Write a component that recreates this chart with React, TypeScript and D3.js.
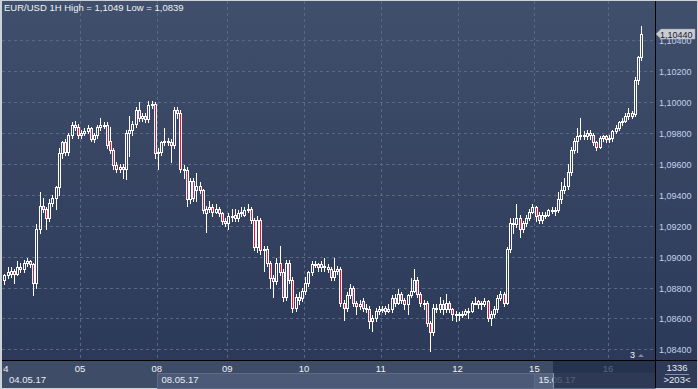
import React from 'react';
import * as d3 from 'd3';

// prices are stored in pips above 1.0000 (887 -> 1,0887)
const openPips = [
  885, 888, 889, 891, 889, 893, 892, 896, 897, 895, 883, 918, 933, 931, 925, 935, 938, 945, 967, 974, 968, 979, 985, 984,
  979, 980, 981, 983, 976, 979, 984, 985, 985, 975, 969, 959, 957, 958, 957, 980, 982, 986, 995, 990, 991, 989, 998, 999,
  967, 968, 974, 975, 974, 972, 995, 993, 957, 956, 937, 949, 943, 946, 943, 928, 931, 932, 929, 931, 928, 923,
  922, 926, 927, 925, 928, 927, 930, 931, 924, 906, 924, 904, 905, 896, 886, 884, 896, 890, 874, 896, 885, 867, 874, 873,
  878, 883, 890, 895, 895, 893, 894, 893, 892, 887, 891, 892, 870, 867, 875, 880, 870, 868, 871, 867, 866, 858, 860, 865,
  866, 867, 865, 866, 873, 870, 876, 872, 869, 875, 878, 885, 876, 870, 870, 857, 851, 867, 866, 869, 866, 870, 866, 863,
  863, 862, 863, 865, 865, 870, 871, 870, 869, 871, 860, 863, 866, 873, 876, 870, 905, 922, 921, 925, 918, 922, 925, 929,
  932, 927, 924, 927, 927, 930, 930, 930, 937, 943, 946, 955, 969, 975, 978, 979, 978, 980, 979, 974, 971, 977, 978,
  976, 977, 981, 983, 987, 988, 991, 991, 992, 1014, 1029,
];
const highPips = [
  889, 893, 893, 892, 897, 896, 898, 899, 898, 896, 921, 942, 938, 932, 937, 940, 946, 970, 975, 976, 980, 987, 988, 986,
  982, 983, 985, 984, 980, 985, 990, 987, 987, 984, 970, 961, 960, 960, 982, 991, 988, 997, 1000, 993, 993, 1001, 1001, 1000,
  970, 975, 983, 977, 976, 997, 997, 995, 959, 958, 951, 951, 954, 948, 944, 933, 936, 934, 934, 932, 929, 925,
  928, 931, 931, 930, 932, 932, 934, 932, 925, 926, 925, 907, 907, 897, 888, 899, 907, 892, 898, 898, 887, 876, 877, 880,
  887, 891, 897, 897, 896, 897, 899, 895, 893, 899, 894, 893, 872, 877, 882, 881, 871, 872, 873, 869, 868, 862, 867, 868,
  868, 868, 869, 875, 876, 879, 877, 873, 876, 886, 892, 887, 877, 872, 871, 858, 869, 869, 874, 872, 876, 871, 867, 865,
  864, 865, 866, 867, 871, 874, 872, 871, 873, 872, 865, 868, 875, 878, 877, 906, 925, 925, 934, 927, 923, 927, 931, 934,
  933, 929, 929, 929, 931, 932, 932, 942, 948, 951, 960, 971, 977, 983, 990, 981, 982, 982, 980, 975, 978, 979, 979,
  979, 982, 985, 988, 990, 993, 996, 994, 1016, 1030, 1049,
];
const lowPips = [
  882, 886, 887, 883, 888, 890, 890, 894, 893, 875, 880, 915, 929, 918, 923, 933, 931, 940, 964, 966, 966, 977, 982, 977,
  977, 979, 980, 975, 974, 977, 982, 983, 970, 967, 957, 955, 955, 951, 950, 965, 979, 984, 988, 988, 987, 987, 996, 964,
  957, 966, 972, 972, 961, 970, 990, 955, 951, 933, 935, 936, 936, 941, 928, 916, 929, 926, 928, 926, 921, 920,
  918, 923, 923, 923, 926, 926, 929, 922, 904, 903, 902, 891, 894, 880, 874, 882, 888, 871, 872, 883, 864, 865, 869, 871,
  876, 881, 888, 893, 891, 891, 891, 890, 885, 885, 889, 868, 859, 865, 873, 868, 863, 866, 865, 864, 854, 852, 858, 863,
  864, 863, 864, 864, 868, 869, 870, 866, 863, 874, 877, 874, 868, 866, 855, 839, 849, 864, 864, 863, 864, 864, 859, 858,
  859, 861, 862, 860, 864, 869, 867, 866, 868, 858, 856, 861, 864, 872, 868, 869, 903, 915, 919, 913, 916, 920, 924, 928,
  923, 922, 922, 925, 926, 928, 927, 929, 935, 941, 944, 953, 967, 968, 976, 976, 976, 976, 972, 969, 970, 975, 974,
  974, 975, 980, 982, 985, 987, 989, 990, 991, 1012, 1027,
];
const closePips = [
  888, 890, 891, 889, 893, 892, 896, 897, 895, 883, 918, 933, 931, 925, 935, 938, 945, 967, 974, 968, 979, 985, 984, 979,
  980, 981, 983, 976, 979, 984, 985, 985, 972, 969, 959, 957, 958, 957, 980, 982, 986, 995, 990, 991, 989, 998, 999, 967,
  968, 974, 975, 974, 972, 995, 993, 957, 956, 937, 949, 938, 946, 943, 930, 931, 932, 929, 931, 928, 923, 922,
  926, 926, 925, 928, 929, 930, 931, 924, 906, 924, 904, 905, 896, 886, 884, 896, 890, 874, 896, 885, 867, 874, 872, 878,
  883, 890, 895, 895, 893, 895, 893, 892, 887, 891, 892, 870, 867, 875, 880, 870, 868, 869, 867, 866, 858, 860, 865, 866,
  866, 865, 866, 873, 870, 876, 872, 869, 875, 878, 885, 876, 870, 870, 857, 851, 867, 866, 869, 866, 870, 866, 863, 862,
  862, 863, 865, 865, 870, 870, 869, 869, 871, 860, 863, 866, 873, 876, 870, 905, 922, 921, 925, 918, 922, 925, 929, 932,
  926, 924, 927, 927, 930, 930, 930, 937, 943, 946, 955, 969, 975, 978, 979, 978, 980, 979, 974, 971, 977, 978, 976,
  977, 981, 983, 987, 988, 991, 993, 993, 1014, 1029, 1044,
];

const dayLabels = ['04', '05', '08', '09', '10', '11', '12', '15', '16'];
const dayCandles = [24, 24, 22, 24, 24, 24, 24, 23, 11];
const weekLabels = ['04.05.17', '08.05.17', '15.05.17'];
const weekFirstDay = [0, 2, 7];
const yTicks = [1.084, 1.086, 1.088, 1.09, 1.092, 1.094, 1.096, 1.098, 1.1, 1.102, 1.104];
const title = 'EUR/USD 1H High = 1,1049 Low = 1,0839';
const barsTotal = '1336';
const barsShown = '>203<';

const W = 698;
const H = 389;
const plotLeft = 2;
const plotRight = 655;
const plotTop = 1;
const plotBottom = 360;
const font = '"Liberation Sans", Arial, sans-serif';

const toPrice = (p: number) => 1 + p / 10000;
const fmt = (v: number) => d3.format('.5f')(v).replace('.', ',');

export default function App() {
  const n = closePips.length;
  const step = 3.2;
  const x = d3.scaleBand<number>().domain(d3.range(n)).range([step, step * (n + 1)]);
  const y = d3.scaleLinear().domain([1.084, 1.104]).range([349.3, 40.3]);

  const dayStarts = dayCandles.map((_, k) => d3.sum(dayCandles.slice(0, k)));
  const dayX = dayStarts.map((s) => x(s) as number);
  const weekX = weekFirstDay.map((d) => (d === 0 ? plotLeft : Math.round(dayX[d]) + 0.5));
  const weekEnd = weekX.slice(1).concat([plotRight]);

  const lastY = y(toPrice(closePips[n - 1]));

  const candles = d3.range(n).map((i) => {
    const o = toPrice(openPips[i]);
    const c = toPrice(closePips[i]);
    const col = Math.floor((x(i) as number) + x.bandwidth() / 2);
    const yt = Math.round(y(Math.max(o, c))) + 0.5;
    const yb = Math.max(Math.round(y(Math.min(o, c))) + 0.5, yt + 1);
    const yh = Math.round(y(toPrice(highPips[i])));
    const yl = Math.round(y(toPrice(lowPips[i]))) + 1;
    const up = c >= o;
    return (
      <g key={i}>
        {yh < yt && <line x1={col + 0.5} x2={col + 0.5} y1={yh} y2={yt} stroke="#fff" />}
        {yl > yb && <line x1={col + 0.5} x2={col + 0.5} y1={yb} y2={yl} stroke="#fff" />}
        <rect x={col - 0.5} y={yt} width={2} height={yb - yt} fill={up ? 'none' : '#e8143c'} stroke="#fff" />
      </g>
    );
  });

  return (
    <svg width={W} height={H} style={{ position: 'absolute', left: 0, top: 0, fontFamily: font }}>
      <defs>
        <linearGradient id="bg" x1="0" y1="0" x2="0" y2="1">
          <stop offset="0" stopColor="#404f6b" />
          <stop offset="1" stopColor="#2c3959" />
        </linearGradient>
        <clipPath id="bottomClip">
          <rect x={3} y={361} width={plotRight - 3} height={28} />
        </clipPath>
      </defs>
      <rect width={W} height={H} fill="#cdd2d9" />
      <rect x={plotLeft} y={plotTop} width={W - plotLeft - 1} height={plotBottom - plotTop} fill="url(#bg)" />

      {/* grid */}
      <g stroke="#5a6884" strokeDasharray="3,3">
        {yTicks.map((t) => (
          <line key={t} x1={plotLeft} x2={plotRight} y1={Math.round(y(t)) + 0.5} y2={Math.round(y(t)) + 0.5} />
        ))}
        {dayX.slice(1).map((dx, k) => (
          <line key={k} x1={Math.round(dx) + 0.5} x2={Math.round(dx) + 0.5} y1={plotTop} y2={plotBottom} />
        ))}
      </g>

      <text x={4} y={11} fontSize={9.5} fill="#eef2f7">{title}</text>

      {candles}

      {/* right axis */}
      <g fontSize={9} fill="#c4d2ea">
        {yTicks.map((t) => (
          <text key={t} x={659} y={Math.round(y(t)) + 3.5}>{fmt(t)}</text>
        ))}
      </g>
      <path
        d={`M656,${lastY} L661,${lastY - 5} H695 V${lastY + 5} H661 Z`}
        fill="#c9cdd3"
        stroke="#9aa2ae"
        strokeWidth={0.5}
      />
      <text x={660} y={lastY + 3.5} fontSize={9} fill="#1c2230">{fmt(toPrice(closePips[n - 1]))}</text>

      <text x={630} y={358} fontSize={9} fill="#f0f3f7">3</text>
      <path d="M638,357 L641,354 L644,357 Z" fill="#7e889b" />

      {/* bottom axis */}
      <rect x={plotLeft} y={361} width={plotRight - plotLeft} height={27} fill="#3f4c68" />
      {weekLabels.map((w, k) => (
        <g key={w}>
          {k > 0 && (
            <rect
              x={weekX[k]}
              y={373.5}
              width={weekEnd[k] - weekX[k]}
              height={15}
              fill={k === 1 ? '#4d5a77' : '#56637f'}
              stroke="#5f6c88"
            />
          )}
          <text x={weekX[k] + (k === 0 ? 7 : 4)} y={383} fontSize={9.5} fill="#e6ebf2">{w}</text>
        </g>
      ))}
      <g clipPath="url(#bottomClip)" fontSize={9.5} fill="#eef2f7" textAnchor="middle">
        {dayLabels.map((d, k) => (
          <text key={d} x={dayX[k]} y={371.5}>{d}</text>
        ))}
      </g>
      <rect x={553} y={361} width={plotRight - 553} height={27} fill="#1d2945" opacity={0.72} />
      <line x1={553.5} x2={553.5} y1={373} y2={388} stroke="#8a94a8" />

      {/* bar counter */}
      <rect x={656} y={361} width={41} height={27} fill="#2e3a58" />
      <text x={677} y={371} fontSize={9.5} fill="#e6ebf2" textAnchor="middle">{barsTotal}</text>
      <line x1={665} x2={689} y1={374.5} y2={374.5} stroke="#8391a8" />
      <text x={677} y={383} fontSize={9.5} fill="#e6ebf2" textAnchor="middle">{barsShown}</text>

      <line x1={plotLeft} x2={W - 1} y1={360.5} y2={360.5} stroke="#000" />
      <line x1={655.5} x2={655.5} y1={plotTop} y2={H - 1} stroke="#000" />
    </svg>
  );
}
